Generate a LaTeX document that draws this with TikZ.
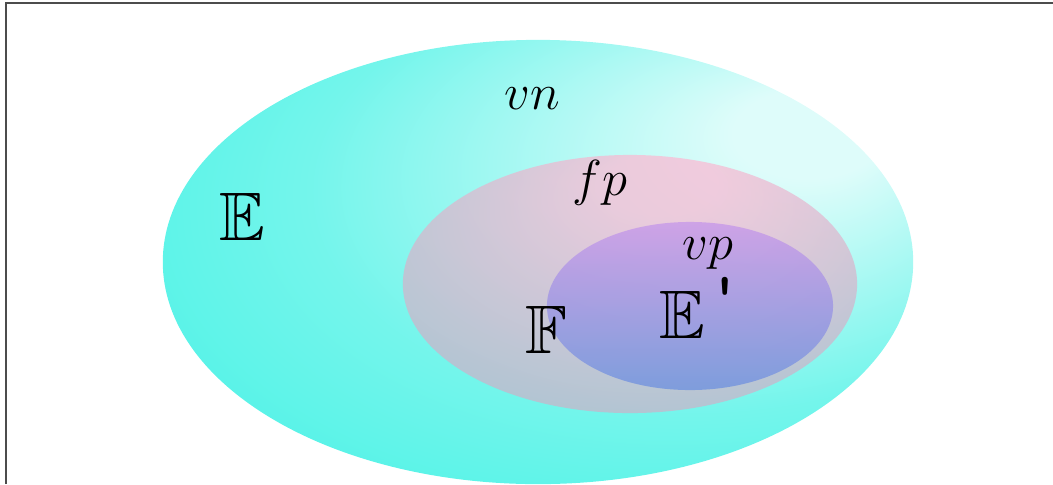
\documentclass[tikz,border=0pt]{standalone}
\usepackage{amssymb}
\usetikzlibrary{positioning}

\definecolor{vncyan}{RGB}{40,240,225}
\definecolor{vnglow}{RGB}{222,252,250}
\definecolor{fppink}{RGB}{250,188,212}
\definecolor{fpgray}{RGB}{168,176,196}
\definecolor{vptop}{RGB}{202,156,232}
\definecolor{vpbottom}{RGB}{116,150,222}

\pgfdeclareradialshading{vnshade}{\pgfpoint{20bp}{16bp}}{%
  color(0bp)=(vnglow); color(5bp)=(vnglow);
  color(25bp)=(vncyan!58!vnglow); color(50bp)=(vncyan)}
\pgfdeclareradialshading{fpshade}{\pgfpoint{4bp}{22bp}}{%
  color(0bp)=(fppink); color(6bp)=(fppink);
  color(50bp)=(fpgray)}

\begin{document}
\begin{tikzpicture}[
  x=0.01cm, y=-0.01cm,
  framestroke/.style = {line width=0.6pt, gray!60!black},
  vnset/.style       = {shading=vnshade},
  fpset/.style       = {shading=fpshade, fill opacity=0.75},
  vpset/.style       = {top color=vptop, bottom color=vpbottom, fill opacity=0.85},
  setlabel/.style    = {inner sep=0pt, font=\fontsize{14.5}{17}\selectfont},
  spacelabel/.style  = {inner sep=0pt, font=\fontsize{19.5}{23}\selectfont},
]
\useasboundingbox (0,0) rectangle (1053,484);
% frame
\coordinate (frbl) at (6,484);
\coordinate (frtl) at (6,3);
\coordinate (frtr) at (1053,3);
\draw[framestroke] (frbl) -- (frtl) -- (frtr);
% sets
\coordinate (vnc) at (538,262);
\coordinate (fpc) at (630,284);
\coordinate (vpc) at (690,306);
\shade[vnset] (vnc) ellipse [x radius=3.75cm, y radius=2.22cm];
\shade[fpset] (fpc) ellipse [x radius=2.27cm, y radius=1.29cm];
\shade[vpset] (vpc) ellipse [x radius=1.43cm, y radius=0.84cm];
% labels
\node[setlabel] (vn) at (532,99) {$vn$};
\node[setlabel] (fp) at (600,183) {$fp$};
\node[setlabel] (vp) at (708,254) {$vp$};
\node[spacelabel] (espace) at (242,217) {$\mathbb{E}$};
\node[spacelabel] (fspace) at (546,330) {$\mathbb{F}$};
\node[spacelabel, anchor=base west] (esub) at (659,338)
     {$\mathbb{E}$\kern1.2pt\raisebox{6.6pt}{\fontsize{17}{17}\selectfont\ttfamily\bfseries\textquotesingle}};
\end{tikzpicture}
\end{document}
